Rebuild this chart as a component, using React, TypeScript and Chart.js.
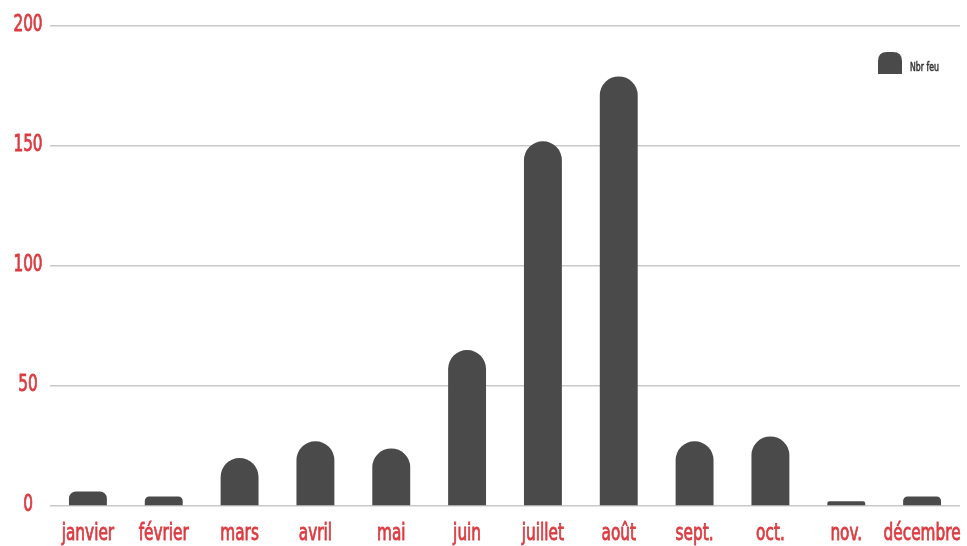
import React, { useEffect, useRef } from "react";
import { Chart, registerables } from "chart.js";

Chart.register(...registerables);

const categories = ["janvier", "février", "mars", "avril", "mai", "juin", "juillet", "août", "sept.", "oct.", "nov.", "décembre"];
const nbrFeu = [6, 4, 20, 27, 24, 65, 152, 179, 27, 29, 2, 4];
const seriesLabel = "Nbr feu";
const yTicks = [0, 50, 100, 150, 200];

const FONT = "'DejaVu Sans Condensed', 'Liberation Sans Narrow', 'Arial Narrow', sans-serif";
const BAR = "#4a4a4a";
const RED = "#dc3b41";
const SQUEEZE = 0.74;

function squeezedText(ctx: CanvasRenderingContext2D, text: string, x: number, y: number, sx: number, stroke = 0) {
  ctx.save();
  ctx.translate(x, y);
  ctx.scale(sx, 1);
  ctx.fillText(text, 0, 0);
  if (stroke > 0) {
    ctx.lineWidth = stroke;
    ctx.strokeText(text, 0, 0);
  }
  ctx.restore();
}

const labelsPlugin = {
  id: "squeezedLabels",
  afterDraw(chart: any) {
    const ctx: CanvasRenderingContext2D = chart.ctx;
    const xs = chart.scales.x;
    const ys = chart.scales.y;
    ctx.save();
    ctx.fillStyle = RED;
    ctx.strokeStyle = RED;
    ctx.font = `23px ${FONT}`;
    ctx.textAlign = "center";
    ctx.textBaseline = "alphabetic";
    xs.ticks.forEach((_t: any, i: number) => {
      squeezedText(ctx, String(chart.data.labels[i]), xs.getPixelForTick(i), 540, SQUEEZE, 0.8);
    });
    ctx.textBaseline = "middle";
    ys.ticks.forEach((t: any, i: number) => {
      squeezedText(ctx, String(t.value), 28, ys.getPixelForTick(i) - 1, SQUEEZE, 0.8);
    });
    // legend
    const ds = chart.data.datasets[0];
    const x = 878, y = 52, w = 24, h = 22, r = 9;
    ctx.fillStyle = ds.backgroundColor;
    ctx.beginPath();
    ctx.moveTo(x, y + h);
    ctx.lineTo(x, y + r);
    ctx.quadraticCurveTo(x, y, x + r, y);
    ctx.lineTo(x + w - r, y);
    ctx.quadraticCurveTo(x + w, y, x + w, y + r);
    ctx.lineTo(x + w, y + h);
    ctx.closePath();
    ctx.fill();
    ctx.fillStyle = "#333333";
    ctx.strokeStyle = "#333333";
    ctx.font = `12px ${FONT}`;
    ctx.textAlign = "left";
    ctx.textBaseline = "middle";
    squeezedText(ctx, ds.label, x + w + 8, y + 16, 0.72, 0.5);
    ctx.restore();
  },
};

export default function App() {
  const ref = useRef<HTMLCanvasElement | null>(null);
  useEffect(() => {
    document.body.style.margin = "0";
    if (!ref.current) return;
    const chart = new Chart(ref.current, {
      type: "bar",
      data: {
        labels: categories,
        datasets: [
          {
            label: seriesLabel,
            data: nbrFeu,
            backgroundColor: BAR,
            borderRadius: { topLeft: 19, topRight: 19, bottomLeft: 0, bottomRight: 0 },
            borderSkipped: "bottom",
            barPercentage: 0.5,
            categoryPercentage: 1,
          },
        ],
      },
      options: {
        animation: false,
        responsive: false,
        layout: { padding: { top: 26, right: 7, left: 0, bottom: 0 } },
        plugins: { legend: { display: false }, tooltip: { enabled: false } },
        scales: {
          x: {
            grid: { display: false },
            border: { display: false },
            ticks: { display: false, autoSkip: false },
            afterFit: (s: any) => { s.height = 40; },
          },
          y: {
            min: yTicks[0],
            max: yTicks[yTicks.length - 1],
            afterBuildTicks: (s: any) => { s.ticks = yTicks.map((v) => ({ value: v })); },
            ticks: { display: false },
            grid: { color: "#c9c9c9", lineWidth: 1.5, drawTicks: false },
            border: { display: false },
            afterFit: (s: any) => { s.width = 50; },
          },
        },
      },
      plugins: [labelsPlugin],
    });
    return () => chart.destroy();
  }, []);
  return (
    <div style={{ width: 967, height: 546, background: "#fff" }}>
      <canvas ref={ref} width={967} height={546} />
    </div>
  );
}
